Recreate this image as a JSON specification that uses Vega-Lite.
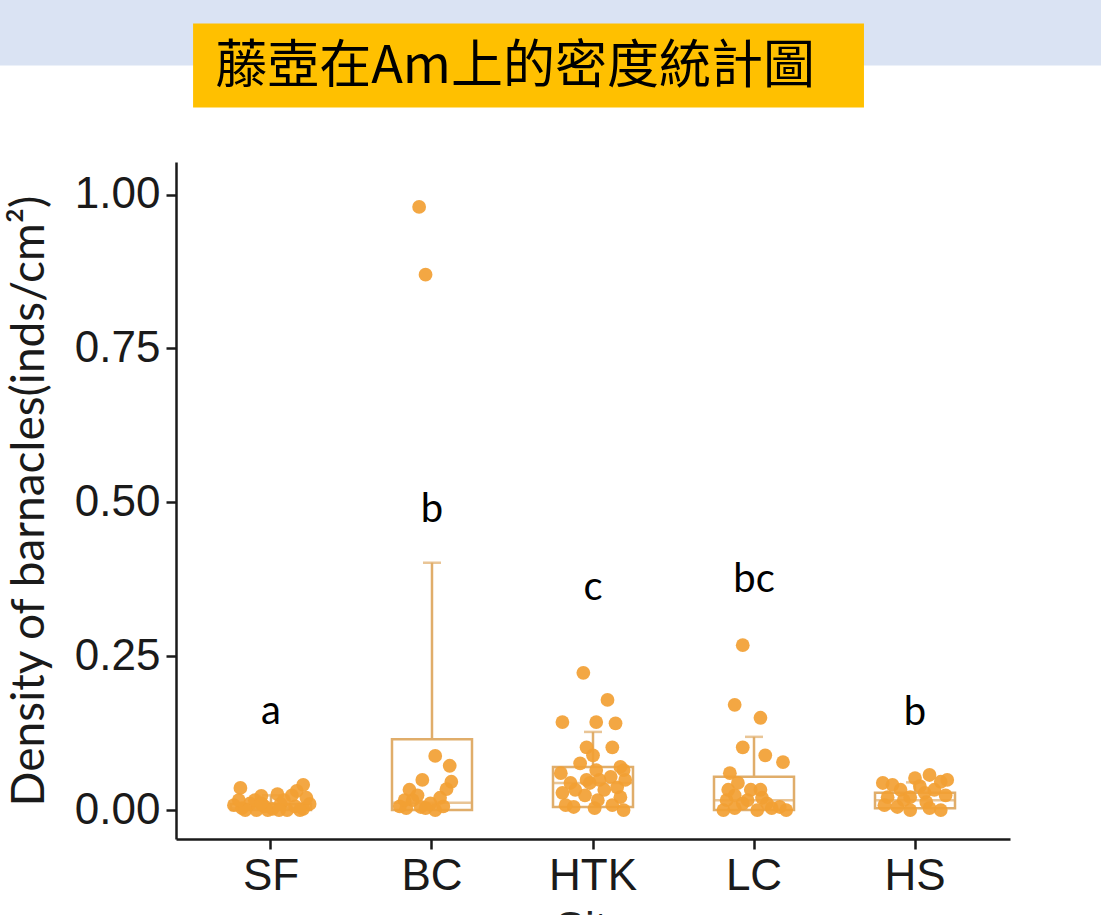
{
  "$schema": "https://vega.github.io/schema/vega-lite/v6.json",
  "autosize": {"type": "none"},
  "width": 834,
  "height": 677,
  "padding": {"left": 176, "top": 162, "right": 91, "bottom": 76},
  "background": "white",
  "config": {"view": {"stroke": null}},
  "datasets": {
    "points": [
      {"site": "SF", "density": 0.036, "jitter": -0.19},
      {"site": "SF", "density": 0.023, "jitter": -0.06},
      {"site": "SF", "density": 0.026, "jitter": 0.04},
      {"site": "SF", "density": 0.024, "jitter": 0.13},
      {"site": "SF", "density": 0.041, "jitter": 0.20},
      {"site": "SF", "density": 0.031, "jitter": 0.16},
      {"site": "SF", "density": 0.008, "jitter": -0.23},
      {"site": "SF", "density": 0.003, "jitter": -0.18},
      {"site": "SF", "density": 0.011, "jitter": -0.13},
      {"site": "SF", "density": 0.0, "jitter": -0.09},
      {"site": "SF", "density": 0.006, "jitter": -0.04},
      {"site": "SF", "density": 0.002, "jitter": 0.01},
      {"site": "SF", "density": 0.010, "jitter": 0.06},
      {"site": "SF", "density": 0.0, "jitter": 0.10},
      {"site": "SF", "density": 0.006, "jitter": 0.15},
      {"site": "SF", "density": 0.002, "jitter": 0.20},
      {"site": "SF", "density": 0.010, "jitter": 0.24},
      {"site": "SF", "density": 0.0, "jitter": -0.16},
      {"site": "SF", "density": 0.0, "jitter": -0.02},
      {"site": "SF", "density": 0.0, "jitter": 0.18},
      {"site": "SF", "density": 0.016, "jitter": -0.10},
      {"site": "SF", "density": 0.016, "jitter": -0.20},
      {"site": "SF", "density": 0.011, "jitter": -0.06},
      {"site": "SF", "density": 0.016, "jitter": 0.08},
      {"site": "SF", "density": 0.020, "jitter": 0.22},
      {"site": "SF", "density": 0.0, "jitter": 0.05},
      {"site": "BC", "density": 0.98, "jitter": -0.08},
      {"site": "BC", "density": 0.87, "jitter": -0.04},
      {"site": "BC", "density": 0.088, "jitter": 0.02},
      {"site": "BC", "density": 0.072, "jitter": 0.11},
      {"site": "BC", "density": 0.046, "jitter": 0.12},
      {"site": "BC", "density": 0.034, "jitter": 0.09},
      {"site": "BC", "density": 0.049, "jitter": -0.06},
      {"site": "BC", "density": 0.033, "jitter": -0.14},
      {"site": "BC", "density": 0.016, "jitter": -0.12},
      {"site": "BC", "density": 0.003, "jitter": -0.16},
      {"site": "BC", "density": 0.005, "jitter": -0.07},
      {"site": "BC", "density": 0.011, "jitter": -0.01},
      {"site": "BC", "density": 0.0, "jitter": 0.02},
      {"site": "BC", "density": 0.006, "jitter": -0.20},
      {"site": "BC", "density": 0.006, "jitter": 0.07},
      {"site": "BC", "density": 0.024, "jitter": -0.09},
      {"site": "BC", "density": 0.016, "jitter": -0.17},
      {"site": "BC", "density": 0.003, "jitter": -0.04},
      {"site": "BC", "density": 0.020, "jitter": 0.05},
      {"site": "HTK", "density": 0.223, "jitter": -0.06},
      {"site": "HTK", "density": 0.179, "jitter": 0.09},
      {"site": "HTK", "density": 0.143, "jitter": -0.19},
      {"site": "HTK", "density": 0.143, "jitter": 0.02},
      {"site": "HTK", "density": 0.141, "jitter": 0.14},
      {"site": "HTK", "density": 0.102, "jitter": -0.04},
      {"site": "HTK", "density": 0.102, "jitter": 0.12},
      {"site": "HTK", "density": 0.089, "jitter": 0.0},
      {"site": "HTK", "density": 0.076, "jitter": -0.08},
      {"site": "HTK", "density": 0.070, "jitter": 0.17},
      {"site": "HTK", "density": 0.060, "jitter": -0.20},
      {"site": "HTK", "density": 0.065, "jitter": 0.02},
      {"site": "HTK", "density": 0.054, "jitter": 0.11},
      {"site": "HTK", "density": 0.044, "jitter": -0.02},
      {"site": "HTK", "density": 0.037, "jitter": 0.15},
      {"site": "HTK", "density": 0.028, "jitter": -0.19},
      {"site": "HTK", "density": 0.016, "jitter": 0.03},
      {"site": "HTK", "density": 0.021, "jitter": 0.17},
      {"site": "HTK", "density": 0.005, "jitter": -0.12},
      {"site": "HTK", "density": 0.0, "jitter": 0.19},
      {"site": "HTK", "density": 0.049, "jitter": -0.04},
      {"site": "HTK", "density": 0.044, "jitter": -0.14},
      {"site": "HTK", "density": 0.033, "jitter": 0.07},
      {"site": "HTK", "density": 0.049, "jitter": 0.20},
      {"site": "HTK", "density": 0.033, "jitter": -0.11},
      {"site": "HTK", "density": 0.049, "jitter": 0.04},
      {"site": "HTK", "density": 0.024, "jitter": -0.05},
      {"site": "HTK", "density": 0.008, "jitter": 0.12},
      {"site": "HTK", "density": 0.008, "jitter": -0.17},
      {"site": "HTK", "density": 0.003, "jitter": 0.01},
      {"site": "HTK", "density": 0.065, "jitter": 0.19},
      {"site": "LC", "density": 0.268, "jitter": -0.07},
      {"site": "LC", "density": 0.171, "jitter": -0.12},
      {"site": "LC", "density": 0.150, "jitter": 0.04},
      {"site": "LC", "density": 0.102, "jitter": -0.07},
      {"site": "LC", "density": 0.089, "jitter": 0.07},
      {"site": "LC", "density": 0.078, "jitter": 0.18},
      {"site": "LC", "density": 0.060, "jitter": -0.15},
      {"site": "LC", "density": 0.044, "jitter": -0.10},
      {"site": "LC", "density": 0.033, "jitter": -0.02},
      {"site": "LC", "density": 0.033, "jitter": 0.04},
      {"site": "LC", "density": 0.016, "jitter": -0.17},
      {"site": "LC", "density": 0.011, "jitter": -0.07},
      {"site": "LC", "density": 0.011, "jitter": 0.08},
      {"site": "LC", "density": 0.005, "jitter": 0.16},
      {"site": "LC", "density": 0.0, "jitter": -0.19},
      {"site": "LC", "density": 0.0, "jitter": 0.02},
      {"site": "LC", "density": 0.0, "jitter": 0.20},
      {"site": "LC", "density": 0.024, "jitter": -0.12},
      {"site": "LC", "density": 0.003, "jitter": -0.12},
      {"site": "LC", "density": 0.016, "jitter": -0.04},
      {"site": "LC", "density": 0.003, "jitter": 0.11},
      {"site": "LC", "density": 0.020, "jitter": 0.05},
      {"site": "LC", "density": 0.033, "jitter": -0.16},
      {"site": "HS", "density": 0.044, "jitter": -0.20},
      {"site": "HS", "density": 0.033, "jitter": -0.09},
      {"site": "HS", "density": 0.052, "jitter": 0.0},
      {"site": "HS", "density": 0.057, "jitter": 0.09},
      {"site": "HS", "density": 0.046, "jitter": 0.16},
      {"site": "HS", "density": 0.028, "jitter": 0.06},
      {"site": "HS", "density": 0.005, "jitter": -0.11},
      {"site": "HS", "density": 0.0, "jitter": -0.03},
      {"site": "HS", "density": 0.0, "jitter": 0.16},
      {"site": "HS", "density": 0.021, "jitter": -0.17},
      {"site": "HS", "density": 0.016, "jitter": -0.07},
      {"site": "HS", "density": 0.013, "jitter": 0.07},
      {"site": "HS", "density": 0.033, "jitter": 0.12},
      {"site": "HS", "density": 0.039, "jitter": 0.03},
      {"site": "HS", "density": 0.049, "jitter": 0.20},
      {"site": "HS", "density": 0.041, "jitter": -0.14},
      {"site": "HS", "density": 0.021, "jitter": -0.03},
      {"site": "HS", "density": 0.024, "jitter": 0.19},
      {"site": "HS", "density": 0.008, "jitter": -0.19},
      {"site": "HS", "density": 0.003, "jitter": 0.09}
    ],
    "boxes": [
      {"site": "SF", "lower": 0.0, "q1": 0.0, "median": 0.003, "q3": 0.010, "upper": 0.024},
      {"site": "BC", "lower": 0.0, "q1": 0.0, "median": 0.012, "q3": 0.115, "upper": 0.402},
      {"site": "HTK", "lower": 0.0, "q1": 0.005, "median": 0.044, "q3": 0.070, "upper": 0.127},
      {"site": "LC", "lower": 0.0, "q1": 0.0, "median": 0.016, "q3": 0.054, "upper": 0.119},
      {"site": "HS", "lower": 0.0, "q1": 0.003, "median": 0.016, "q3": 0.028, "upper": 0.045}
    ],
    "letters": [
      {"site": "SF", "pos": 0.159, "label": "a"},
      {"site": "BC", "pos": 0.488, "label": "b"},
      {"site": "HTK", "pos": 0.361, "label": "c"},
      {"site": "LC", "pos": 0.374, "label": "bc"},
      {"site": "HS", "pos": 0.158, "label": "b"}
    ],
    "header": [{"title": "藤壺在Am上的密度統計圖"}]
  },
  "encoding": {
    "x": {
      "field": "site",
      "type": "nominal",
      "sort": ["SF", "BC", "HTK", "LC", "HS"],
      "scale": {"domain": ["SF", "BC", "HTK", "LC", "HS"], "paddingInner": 0, "paddingOuter": 0.09},
      "axis": {
        "title": "Site",
        "titleFont": "Liberation Sans",
        "titleFontSize": 44,
        "titleFontWeight": "normal",
        "titleColor": "#222",
        "titlePadding": 9,
        "labelAngle": 0,
        "labelFont": "Liberation Sans",
        "labelFontSize": 44,
        "labelColor": "#1a1a1a",
        "labelPadding": 5,
        "domainColor": "#1a1a1a",
        "domainWidth": 2.5,
        "tickColor": "#1a1a1a",
        "tickWidth": 2.5,
        "tickSize": 10
      }
    }
  },
  "layer": [
    {
      "data": {"name": "header"},
      "mark": {"type": "rect", "color": "#dae3f3"},
      "encoding": {
        "x": {"datum": "SF", "bandPosition": -1.3},
        "x2": {"datum": "HS", "bandPosition": 1.8},
        "y": {"datum": 1.45, "type": "quantitative"},
        "y2": {"datum": 1.2098}
      }
    },
    {
      "data": {"name": "header"},
      "mark": {"type": "rect", "color": "#ffc000"},
      "encoding": {
        "x": {"datum": "SF", "bandPosition": 0.016},
        "x2": {"datum": "HS", "bandPosition": 0.183},
        "y": {"datum": 1.278, "type": "quantitative"},
        "y2": {"datum": 1.1415}
      }
    },
    {
      "data": {"name": "header"},
      "mark": {"type": "text", "font": "Noto Sans CJK TC", "fontSize": 52, "color": "black", "align": "center", "baseline": "middle"},
      "encoding": {
        "x": {"datum": "HTK", "bandPosition": 0.016},
        "y": {"datum": 1.207, "type": "quantitative"},
        "text": {"field": "title"}
      }
    },
    {
      "data": {"name": "boxes"},
      "mark": {"type": "rule", "color": "#e0ad6a", "strokeWidth": 2.5},
      "encoding": {
        "y": {
          "field": "q3",
          "type": "quantitative",
          "scale": {"domain": [-0.047, 1.053], "nice": false, "zero": false},
          "axis": {
            "title": "Density of barnacles(inds/cm²)",
            "titleFont": "Lato",
            "titleFontSize": 46,
            "titleFontWeight": "normal",
            "titleColor": "#1a1a1a",
            "titlePadding": 21,
            "values": [0, 0.25, 0.5, 0.75, 1.0],
            "format": ".2f",
            "grid": false,
            "labelFont": "Liberation Sans",
            "labelFontSize": 44,
            "labelColor": "#1a1a1a",
            "labelPadding": 6,
            "domainColor": "#1a1a1a",
            "domainWidth": 2.5,
            "tickColor": "#1a1a1a",
            "tickWidth": 2.5,
            "tickSize": 10
          }
        },
        "y2": {"field": "upper"}
      }
    },
    {
      "data": {"name": "boxes"},
      "mark": {"type": "tick", "color": "#e0ad6a", "thickness": 2.5, "size": 18},
      "encoding": {"y": {"field": "upper", "type": "quantitative"}}
    },
    {
      "data": {"name": "boxes"},
      "mark": {"type": "bar", "fill": "transparent", "stroke": "#e0ad6a", "strokeWidth": 2.5, "size": 80},
      "encoding": {
        "y": {"field": "q1", "type": "quantitative"},
        "y2": {"field": "q3"}
      }
    },
    {
      "data": {"name": "boxes"},
      "mark": {"type": "tick", "color": "#e0ad6a", "thickness": 2.5, "size": 80},
      "encoding": {"y": {"field": "median", "type": "quantitative"}}
    },
    {
      "data": {"name": "points"},
      "mark": {"type": "circle", "color": "#f2a033", "opacity": 0.92, "size": 190},
      "encoding": {
        "xOffset": {"field": "jitter", "type": "quantitative", "scale": {"domain": [-0.5, 0.5]}},
        "y": {"field": "density", "type": "quantitative"}
      }
    },
    {
      "data": {"name": "letters"},
      "mark": {"type": "text", "font": "Lato", "fontSize": 40, "color": "black", "baseline": "middle"},
      "encoding": {
        "y": {"field": "pos", "type": "quantitative"},
        "text": {"field": "label"}
      }
    }
  ]
}
